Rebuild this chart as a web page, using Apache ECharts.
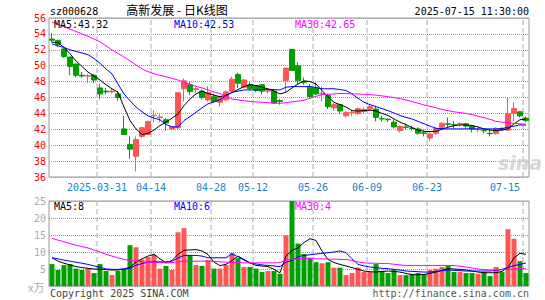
<!DOCTYPE html>
<html>
<head>
<meta charset="utf-8">
<script src="https://cdn.jsdelivr.net/npm/echarts@6/dist/echarts.min.js"></script>
<style>
  html, body { margin: 0; padding: 0; background: #fff; }
  #main { width: 545px; height: 300px; }
</style>
</head>
<body>
<div id="main"></div>
<script>
// 交易日
var dates = [
  '2025-03-19','2025-03-20','2025-03-21','2025-03-24','2025-03-25','2025-03-26','2025-03-27','2025-03-28','2025-03-31',
  '2025-04-01','2025-04-02','2025-04-03','2025-04-07','2025-04-08','2025-04-09','2025-04-10','2025-04-11','2025-04-14',
  '2025-04-15','2025-04-16','2025-04-17','2025-04-18','2025-04-21','2025-04-22','2025-04-23','2025-04-24','2025-04-25',
  '2025-04-28','2025-04-29','2025-04-30','2025-05-06','2025-05-07','2025-05-08','2025-05-09','2025-05-12','2025-05-13',
  '2025-05-14','2025-05-15','2025-05-16','2025-05-19','2025-05-20','2025-05-21','2025-05-22','2025-05-23','2025-05-26',
  '2025-05-27','2025-05-28','2025-05-29','2025-05-30','2025-06-03','2025-06-04','2025-06-05','2025-06-06','2025-06-09',
  '2025-06-10','2025-06-11','2025-06-12','2025-06-13','2025-06-16','2025-06-17','2025-06-18','2025-06-19','2025-06-20',
  '2025-06-23','2025-06-24','2025-06-25','2025-06-26','2025-06-27','2025-06-30','2025-07-01','2025-07-02','2025-07-03',
  '2025-07-04','2025-07-07','2025-07-08','2025-07-09','2025-07-10','2025-07-11','2025-07-14','2025-07-15'
];
// 显示标签的位置
var tickIndex = [8, 17, 27, 34, 44, 53, 63, 79];
var tickLabels = ['2025-03-31', '04-14', '04-28', '05-12', '05-26', '06-09', '06-23', '07-15'];

var opens = [53.35,53.16,52.1,51.1,50.2,48.8,48.7,48.8,47.2,46.8,46.7,46.45,42.05,40.1,38.6,41.1,41.35,43.7,43.5,43.2,
  42.05,42.2,47.1,47.6,47.0,46.8,45.7,46.1,45.4,45.7,46.8,48.9,47.3,47.6,47.5,47.6,46.8,46.8,45.6,48.1,
  52.05,50.0,48.0,47.3,47.2,46.45,46.25,44.7,45.1,43.7,44.1,44.0,44.25,44.55,44.55,43.35,43.25,42.9,41.85,42.3,
  42.15,42.05,41.55,40.9,41.5,42.25,42.7,42.6,42.65,42.7,42.4,41.95,41.85,41.5,41.5,42.05,41.9,44.0,44.2,43.4];
var closes = [53.2,52.66,51.15,49.9,48.8,48.7,48.75,48.2,46.45,46.7,46.8,46.0,41.35,39.5,40.7,42.2,42.97,43.75,43.55,42.8,
  42.3,46.6,48.1,46.75,47.1,46.0,46.6,45.5,46.1,46.7,48.3,47.8,48.2,47.1,46.9,46.8,46.85,45.3,45.5,49.7,
  49.4,48.1,47.9,46.1,46.45,46.5,44.85,45.1,44.3,44.1,44.15,44.6,44.5,44.85,43.5,43.3,43.2,42.3,42.35,42.25,
  42.1,41.5,41.5,41.4,42.1,42.75,42.65,42.55,42.7,42.4,42.05,42.0,41.8,41.45,42.05,42.0,44.0,44.6,43.7,43.1];
var lows = [52.9,52.32,51.0,48.8,48.5,48.5,47.8,47.8,45.75,46.4,46.5,45.6,41.3,38.3,36.7,40.9,41.3,42.9,42.9,41.8,
  41.9,41.9,45.5,46.3,46.6,45.75,45.5,45.3,44.85,45.5,46.7,47.2,47.2,46.9,46.7,46.4,46.5,45.2,45.1,46.6,
  49.3,47.7,47.6,45.9,46.3,45.5,44.55,44.3,43.9,43.5,43.7,43.8,44.0,44.3,43.0,43.0,42.9,42.1,41.6,42.0,
  41.85,41.3,41.1,40.5,41.3,42.2,42.3,42.1,42.35,42.1,41.6,41.65,41.5,41.1,41.3,41.8,41.8,43.0,43.5,42.9];
var highs = [54.1,53.29,52.2,51.1,50.3,49.2,49.0,48.97,47.7,47.2,47.1,46.8,43.7,41.1,41.1,42.3,43.1,44.4,43.9,43.4,
  42.4,46.6,48.4,48.0,47.3,47.0,47.4,46.45,46.2,46.9,48.6,49.1,48.3,47.9,47.6,47.6,47.2,46.9,45.8,49.7,
  52.1,50.4,48.5,47.7,47.9,47.4,46.45,45.3,45.2,44.3,44.4,44.75,44.75,45.1,44.95,43.7,43.4,43.2,42.5,42.7,
  42.45,42.25,41.85,41.6,42.25,42.9,43.5,43.0,42.9,42.8,42.5,42.25,42.1,41.9,42.25,42.25,46.0,45.4,44.3,43.6];
// 成交量(万)
var volumes = [6.45,4.7,6.15,6.45,5.1,4.7,5.1,3.8,6.45,4.4,3.2,4.4,5.1,12.0,11.4,7.8,8.5,9.2,5.1,5.9,
  4.7,15.8,17.0,9.1,6.15,5.9,7.6,5.1,5.1,6.15,9.7,8.2,5.6,5.6,5.1,4.1,4.4,4.4,3.6,14.9,
  25.0,12.5,9.4,8.3,7.0,6.7,7.0,5.4,5.4,3.2,3.8,5.4,4.1,4.1,6.45,4.4,3.8,4.9,3.2,3.2,
  3.6,3.8,3.4,4.7,5.1,5.6,5.9,4.1,4.1,3.8,3.8,3.6,4.1,2.9,5.6,4.1,16.7,13.9,7.3,3.8];

// 均线
var ma5 = [52.95,52.9,52.3,51.5,50.6,49.9,49.2,48.7,48.2,47.6,47.1,46.66,44.8,43.1,42.05,41.34,41.5,41.9,42.47,42.9,
  43.4,43.93,44.98,45.8,46.45,46.8,46.5,46.3,46.1,46.3,46.6,47.0,47.37,47.6,47.5,47.3,47.08,46.8,46.45,46.66,
  47.2,47.7,48.1,48.0,47.7,46.87,46.1,45.4,45.1,44.8,44.35,44.3,44.35,44.4,44.3,44.0,43.73,43.3,42.9,42.6,
  42.2,41.9,41.76,41.7,41.76,42.0,42.26,42.45,42.55,42.55,42.47,42.3,42.05,41.9,41.84,41.9,42.05,42.7,43.2,43.32];
var ma10 = [52.74,52.5,52.3,52.0,51.8,51.6,51.4,50.9,50.3,49.6,48.97,47.7,46.45,45.6,44.8,44.2,43.7,43.4,43.2,42.6,
  42.3,42.3,43.1,43.6,44.15,44.7,45.2,45.45,45.7,46.2,46.66,46.8,46.95,46.95,46.95,47.0,47.04,47.0,46.95,47.3,
  47.37,47.37,47.37,47.37,47.25,47.1,47.1,47.1,47.0,46.87,46.45,45.9,45.4,45.1,44.86,44.6,44.35,44.05,43.73,43.5,
  43.3,43.0,42.7,42.4,42.13,42.08,42.05,42.05,42.05,42.05,42.05,42.05,42.05,42.05,42.05,42.1,42.26,42.4,42.55,42.53];
var ma30 = [55.5,55.2,54.9,54.6,54.3,54.0,53.7,53.35,53.0,52.5,52.0,51.55,51.1,50.6,50.1,49.6,49.25,49.0,48.8,48.6,
  48.4,48.2,47.9,47.65,47.4,47.2,46.95,46.7,46.5,46.1,45.8,45.7,45.6,45.5,45.45,45.4,45.35,45.3,45.27,45.35,
  45.45,45.55,45.65,45.9,46.15,46.35,46.4,46.45,46.5,46.5,46.45,46.45,46.4,46.35,46.3,46.2,46.1,46.0,45.85,45.7,
  45.5,45.3,45.05,44.9,44.7,44.5,44.35,44.2,44.1,44.0,43.85,43.65,43.45,43.25,43.0,42.9,42.85,42.75,42.7,42.65];
var volMa5 = [8.3,7.3,6.7,6.2,5.7,5.4,5.2,5.0,4.9,4.8,4.7,4.7,5.0,5.5,7.0,8.0,8.8,9.3,8.0,6.8,
  7.5,9.3,10.5,10.6,10.7,10.3,9.3,7.0,6.0,6.35,7.5,8.8,7.8,6.8,6.05,5.9,5.7,4.9,3.9,8.8,
  10.5,11.2,12.8,13.9,13.4,10.3,7.8,6.9,6.35,5.9,5.4,4.9,4.4,4.2,4.1,4.3,4.4,4.3,4.1,3.7,
  3.3,3.3,3.4,3.7,4.1,4.6,5.1,5.0,4.9,4.7,4.4,4.1,3.9,3.9,3.9,4.3,5.4,8.3,9.6,9.3];
var volMa10 = [8.3,8.0,7.6,7.3,7.0,6.7,6.35,5.9,5.5,5.0,4.9,4.9,5.0,5.2,6.1,6.6,7.0,7.1,7.1,7.1,
  7.3,8.2,9.0,9.0,9.0,8.8,8.3,8.3,8.3,8.3,9.4,8.6,7.6,6.8,6.5,6.2,6.05,5.9,5.7,7.0,
  7.5,8.6,9.0,9.2,9.4,9.6,9.8,10.0,10.3,9.8,8.0,6.35,5.9,5.6,5.4,5.2,5.1,4.9,4.7,4.4,
  4.3,4.2,4.1,4.1,4.3,4.5,4.7,4.6,4.5,4.4,4.4,4.4,4.4,4.4,4.6,4.9,5.4,6.0,6.35,6.8];
var volMa30 = [14.0,13.5,13.0,12.5,12.0,11.6,11.2,10.6,10.0,9.3,8.8,8.3,7.8,7.5,7.3,7.1,7.0,6.95,6.9,6.8,
  6.9,7.1,7.3,7.3,7.3,7.3,7.3,7.2,7.1,7.0,7.0,6.9,6.8,6.8,6.8,6.8,6.8,6.8,6.9,7.6,
  7.9,8.0,8.1,8.1,8.0,8.0,7.9,7.9,7.8,7.8,7.5,7.1,6.8,6.7,6.7,6.6,6.6,6.4,6.2,6.05,
  6.05,6.05,6.05,6.05,6.05,6.05,6.05,6.0,5.8,5.6,5.3,5.0,4.8,4.7,4.7,4.8,4.9,5.0,5.1,5.1];
var volLegend = ['MA5:8', 'MA10:6', 'MA30:4'];

var UP = '#ff5555', DOWN = '#00a000';
var MONO = 'DejaVu Sans Mono';

// svg 渲染, 虚线/点线在 canvas 下画不出来
var myChart = echarts.init(document.getElementById('main'), null, { renderer: 'svg' });

var kData = dates.map(function (d, i) {
  return [opens[i], closes[i], lows[i], highs[i]];
});
var volData = volumes.map(function (v, i) {
  return { value: v, itemStyle: { color: closes[i] >= opens[i] ? UP : DOWN } };
});

function maLine(name, data, color, xi) {
  return {
    name: name, type: 'line', data: data, xAxisIndex: xi, yAxisIndex: xi,
    symbol: 'none', z: 5, silent: true,
    lineStyle: { color: color, width: 1 }
  };
}

// 竖向虚线: 画在隐藏的数值轴上, 位于每个标签K线的左边界
function dashSeries(xi, yi, lo, hi) {
  var pts = [];
  tickIndex.forEach(function (i) {
    pts.push([i, lo], [i, hi], [i, '-']);
  });
  return {
    type: 'line', data: pts, xAxisIndex: xi, yAxisIndex: yi, silent: true, z: 1,
    symbol: 'none', connectNulls: false,
    lineStyle: { color: '#aaa', type: [5, 3], width: 1 }
  };
}

function txt(text, x, y, color, align, font) {
  return {
    type: 'text', x: x, y: y, silent: true, z: 100,
    style: {
      text: text, fill: color, align: align || 'left', verticalAlign: 'middle',
      font: font || ('10px ' + MONO)
    }
  };
}

var last = dates.length - 1;
var splitY = { show: true, lineStyle: { color: '#999', type: 'dotted', width: 1 } };

function hiddenValueAxis(gi) {
  return {
    type: 'value', gridIndex: gi, min: 0, max: dates.length, show: false,
    splitLine: { show: false }
  };
}

var option = {
  animation: false,
  backgroundColor: '#fff',
  grid: [
    { left: 49, top: 18, width: 480, height: 159, show: true, borderColor: '#999', borderWidth: 1 },
    { left: 49, top: 201, width: 480, height: 85, show: true, borderColor: '#999', borderWidth: 1 }
  ],
  xAxis: [
    {
      type: 'category', gridIndex: 0, data: dates,
      axisLine: { show: false }, axisTick: { show: false }, splitLine: { show: false },
      axisLabel: {
        interval: function (i) { return tickIndex.indexOf(i) >= 0; },
        margin: 5, color: '#1a7fd4', fontFamily: MONO, fontSize: 10,
        padding: [0, 6, 0, 0], alignMaxLabel: 'right',
        formatter: function (v, i) {
          var k = tickIndex.indexOf(i);
          return k >= 0 ? tickLabels[k] : '';
        }
      }
    },
    {
      type: 'category', gridIndex: 1, data: dates,
      axisLine: { show: false }, axisTick: { show: false }, axisLabel: { show: false },
      splitLine: { show: false }
    },
    hiddenValueAxis(0),
    hiddenValueAxis(1)
  ],
  yAxis: [
    {
      type: 'value', gridIndex: 0, min: 36, max: 56, interval: 2,
      axisLine: { show: false }, axisTick: { show: false },
      axisLabel: { color: '#ff0000', fontFamily: MONO, fontSize: 10, margin: 3 },
      splitLine: splitY
    },
    {
      type: 'value', gridIndex: 1, min: 0, max: 25, interval: 5,
      axisLine: { show: false }, axisTick: { show: false },
      axisLabel: {
        color: '#aaa', fontFamily: MONO, fontSize: 10, margin: 3,
        formatter: function (v) { return v === 0 ? '' : v; }
      },
      splitLine: splitY
    }
  ],
  series: [
    dashSeries(2, 0, 36, 56),
    dashSeries(3, 1, 0, 25),
    {
      type: 'candlestick', data: kData, xAxisIndex: 0, yAxisIndex: 0, barWidth: 5, z: 3,
      itemStyle: { color: UP, color0: DOWN, borderColor: UP, borderColor0: DOWN, borderWidth: 1 }
    },
    maLine('MA5', ma5, '#000000', 0),
    maLine('MA10', ma10, '#0000ff', 0),
    maLine('MA30', ma30, '#ff00ff', 0),
    { type: 'bar', data: volData, xAxisIndex: 1, yAxisIndex: 1, barWidth: 5, z: 3 },
    maLine('VMA5', volMa5, '#000000', 1),
    maLine('VMA10', volMa10, '#0000ff', 1),
    maLine('VMA30', volMa30, '#ff00ff', 1)
  ],
  graphic: [
    txt('sz000628', 50, 11, '#000'),
    txt('高新发展 - 日K线图', 177, 9, '#000', 'center', '12px "Noto Sans CJK SC"'),
    txt('2025-07-15 11:30:00', 529, 11, '#000', 'right'),
    txt('MA5:' + ma5[last].toFixed(2), 54, 24, '#000'),
    txt('MA10:' + ma10[last].toFixed(2), 174, 24, '#0000ff'),
    txt('MA30:' + ma30[last].toFixed(2), 295, 24, '#ff00ff'),
    txt(volLegend[0], 54, 206, '#000'),
    txt(volLegend[1], 174, 206, '#0000ff'),
    txt(volLegend[2], 295, 206, '#ff00ff'),
    txt('x万', 28, 287, '#aaa', 'left', '11px "Noto Sans CJK SC"'),
    txt('Copyright 2025 SINA.COM', 50, 293, '#444'),
    txt('http://finance.sina.com.cn', 529, 293, '#555', 'right'),
    txt('sina', 498, 163, 'rgba(205,205,205,0.8)', 'left', 'italic bold 19px "DejaVu Sans"')
  ]
};

myChart.setOption(option);
</script>
</body>
</html>
